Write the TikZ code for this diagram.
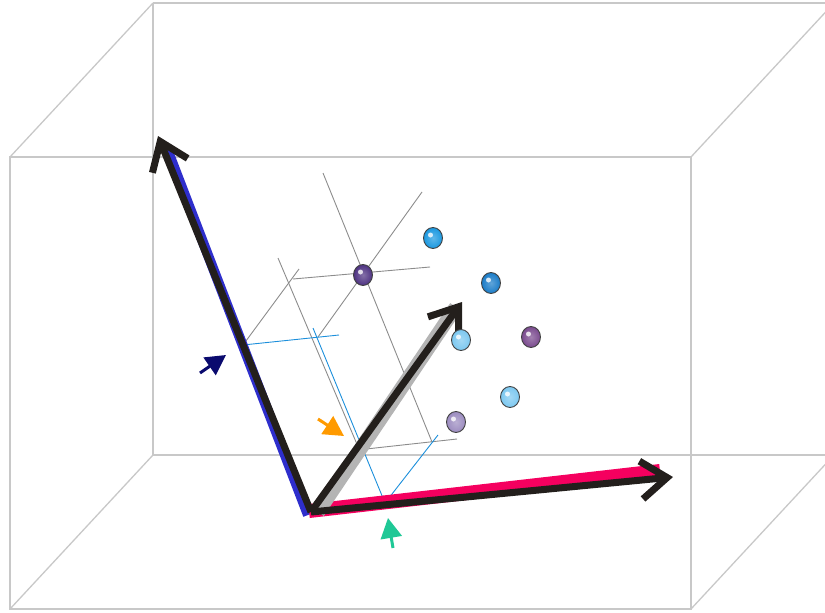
\documentclass[tikz,border=0pt]{standalone}
\usepackage{xcolor}
\usepackage{tikz}
\usetikzlibrary{arrows.meta,shapes.geometric}
\definecolor{boxgray}{HTML}{C8C8C8}
\definecolor{guidegray}{HTML}{8C8C8C}
\definecolor{projblue}{HTML}{1C8FDB}
\definecolor{vecblack}{HTML}{231F1C}
\definecolor{vecblue}{HTML}{2E2ECC}
\definecolor{vecpink}{HTML}{F5005F}
\definecolor{vecshade}{HTML}{B4B4B4}
\definecolor{ptnavy}{HTML}{0A0A6E}
\definecolor{ptorange}{HTML}{FF9A00}
\definecolor{ptgreen}{HTML}{1FC896}
\definecolor{dotviolet}{HTML}{4E3282}
\definecolor{dotblue}{HTML}{1A98E0}
\definecolor{dotdeep}{HTML}{1A7CC8}
\definecolor{dotsky}{HTML}{7CC8F0}
\definecolor{dotplum}{HTML}{7A4A8E}
\definecolor{dotlilac}{HTML}{9C8CC0}

\begin{document}
\begin{tikzpicture}[x=1pt,y=-1pt,
  frame/.style={draw=boxgray,line width=1.3pt},
  guide/.style={draw=guidegray,line width=0.9pt},
  proj/.style={draw=projblue,line width=0.9pt},
  shaft/.style={draw=vecblack,line width=7pt,
    -{Straight Barb[length=26pt,width=38pt,line cap=butt,line join=miter]}},
  ball/.style={ellipse,draw=black!75,line width=0.9pt,
    inner color=#1!70!white,outer color=#1,
    minimum width=19pt,minimum height=21pt,inner sep=0pt,
    path picture={\fill[white,opacity=0.8]
      ([xshift=-2.5pt,yshift=3pt]path picture bounding box.center) circle (2.5pt);}},
  pointer/.style={draw=#1,line width=3pt,-{Triangle[length=20pt,width=21pt]}}]
  \useasboundingbox (0,0) rectangle (825,613);
  \clip (0,0) rectangle (825,613);

  % box
  \draw[frame] (153,3) -- (834,3) (153,3) -- (153,455) -- (834,455);
  \draw[frame] (10,157) rectangle (691,609);
  \draw[frame] (10,157) -- (153,3) (691,157) -- (834,3);
  \draw[frame] (10,609) -- (153,455) (691,609) -- (834,455);

  % construction lines
  \draw[guide] (323,173) -- (432,442);
  \draw[guide] (422,192) -- (318,337);
  \draw[guide] (293,279) -- (430,267);
  \draw[guide] (278,258) -- (359,449);
  \draw[guide] (299,269) -- (243,345);
  \draw[guide] (357,450) -- (457,439);
  \draw[proj] (243,345) -- (339,335);
  \draw[proj] (313,328) -- (385,503);
  \draw[proj] (385,503) -- (438,435);

  % axes
  \coordinate (O) at (311,512);
  \coordinate (ub) at (158,136);
  \coordinate (up) at (673,477);
  \coordinate (ud) at (462,302);
  \draw[vecblue,line width=10pt] (308,515) -- (166,146);
  \draw[vecpink,line width=14pt] (309,511) -- (660,471);
  \draw[vecshade,line width=14pt] (318,512) -- (456,307);
  \draw[shaft] (O) -- (ub);
  \draw[shaft] (O) -- (up);
  \draw[shaft] (O) -- (ud);

  % data points
  \node[ball=dotviolet] (p0) at (363,275) {};
  \node[ball=dotblue] (p1) at (433,238) {};
  \node[ball=dotdeep] (p2) at (491,283) {};
  \node[ball=dotsky] (p3) at (461,340) {};
  \node[ball=dotplum] (p4) at (531,337) {};
  \node[ball=dotsky] (p5) at (510,397) {};
  \node[ball=dotlilac] (p6) at (456,422) {};

  % markers
  \draw[pointer=ptnavy] (200,373) -- (226,355);
  \draw[pointer=ptorange] (318,419) -- (344,436);
  \draw[pointer=ptgreen] (393,548) -- (388,518);
\end{tikzpicture}
\end{document}
